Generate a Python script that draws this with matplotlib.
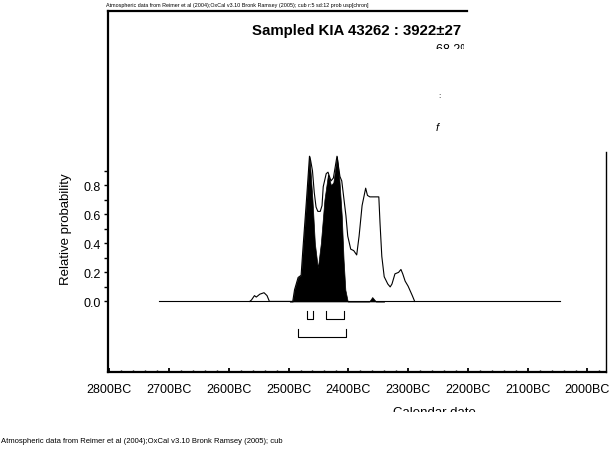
import numpy as np
import matplotlib
matplotlib.use("Agg")
import matplotlib.pyplot as plt
from matplotlib.ticker import FixedLocator, MultipleLocator, FuncFormatter
from matplotlib.transforms import Bbox

plt.rcParams['font.family'] = ['Liberation Sans', 'DejaVu Sans']

# Likelihood (outline), calendar years BC and relative probability
prior_bc = [2565, 2562, 2557, 2554, 2548, 2541, 2536, 2532, 2498, 2493, 2490, 2484,
            2479, 2476, 2470, 2465, 2463, 2460, 2457, 2454, 2451, 2447, 2444, 2442,
            2437, 2434, 2429, 2425, 2419, 2414, 2411, 2404, 2401, 2396, 2391, 2386,
            2382, 2377, 2371, 2368, 2364, 2349, 2347, 2344, 2340, 2334, 2330, 2327,
            2322, 2316, 2312, 2309, 2305, 2300, 2293, 2289]
prior_p = [0.0, 0.01, 0.04, 0.03, 0.05, 0.06, 0.04, 0.0, 0.0, 0.0, 0.08, 0.165,
           0.18, 0.36, 0.70, 1.0, 0.97, 0.90, 0.75, 0.65, 0.62, 0.62, 0.66, 0.79,
           0.88, 0.89, 0.83, 0.85, 1.0, 0.86, 0.83, 0.59, 0.45, 0.36, 0.35, 0.32,
           0.45, 0.66, 0.78, 0.73, 0.72, 0.72, 0.54, 0.31, 0.17, 0.12, 0.10, 0.12,
           0.19, 0.20, 0.22, 0.19, 0.14, 0.105, 0.04, 0.0]

# Sampled (posterior) distribution, filled
post_bc = [2498, 2493, 2490, 2484, 2479, 2476, 2470, 2465, 2460, 2456, 2451, 2446,
           2440, 2434, 2429, 2425, 2419, 2415, 2411, 2408, 2405, 2401,
           2370, 2365, 2360, 2354, 2340]
post_p = [0.0, 0.0, 0.08, 0.165, 0.18, 0.36, 0.70, 1.0, 0.70, 0.40, 0.23, 0.40,
          0.70, 0.875, 0.80, 0.82, 1.0, 0.84, 0.59, 0.29, 0.08, 0.0,
          0.0, 0.0, 0.03, 0.0, 0.0]

# baseline span of the plot
base_bc = [2716, 2046]

# highest probability ranges (from, to) BC
r68 = [(2469, 2459), (2438, 2408)]
r95 = [(2484, 2404)]

title = "Sampled KIA 43262 : 3922\u00b127"
note_top = "Atmospheric data from Reimer et al (2004);OxCal v3.10 Bronk Ramsey (2005); cub r:5 sd:12 prob usp[chron]"
note_bottom = "Atmospheric data from Reimer et al (2004);OxCal v3.10 Bronk Ramsey (2005); cub"

W, H = 613, 452
fig = plt.figure(figsize=(W / 100, H / 100), dpi=100)
ax = fig.add_axes([108 / W, 1 - 373 / H, (606 - 108) / W, (373 - 12) / H])

x_prior = -np.array(prior_bc)
x_post = -np.array(post_bc)

ax.plot([-base_bc[0], -base_bc[1]], [0, 0], color='black', lw=0.8)
ax.plot(x_prior, prior_p, color='black', lw=0.8)
ax.fill_between(x_post, 0, post_p, color='black', lw=0.5)

# range brackets
for a, b in r68:
    ax.plot([-a, -a, -b, -b], [-0.065, -0.122, -0.122, -0.065], color='black', lw=0.8)
for a, b in r95:
    ax.plot([-a, -a, -b, -b], [-0.19, -0.243, -0.243, -0.19], color='black', lw=0.8)

ax.set_xlim(-2802, -1969)
ax.set_ylim(-0.486, 2.0)

ax.xaxis.set_major_locator(FixedLocator(np.arange(-2800, -1999, 100)))
ax.xaxis.set_minor_locator(MultipleLocator(20))
ax.xaxis.set_major_formatter(FuncFormatter(lambda v, p: f"{int(round(-v))}BC"))
ax.yaxis.set_major_locator(FixedLocator([0, 0.2, 0.4, 0.6, 0.8]))
ax.yaxis.set_minor_locator(FixedLocator([0.1, 0.3, 0.5, 0.7, 0.9]))
ax.yaxis.set_major_formatter(FuncFormatter(lambda v, p: f"{v:.1f}"))

ax.tick_params(axis='x', which='major', direction='in', length=3, width=1.3,
               labelsize=9, pad=8)
ax.tick_params(axis='x', which='minor', direction='in', length=1.5, width=1)
ax.tick_params(axis='y', which='both', direction='out', length=3, width=1,
               labelsize=9, pad=2)

for s in ['left', 'bottom', 'top']:
    ax.spines[s].set_linewidth(1.6)
ax.spines['right'].set_linewidth(1.0)
ax.spines['top'].set_bounds(-2802, -2201)
ax.spines['right'].set_bounds(-0.486, 1.027)

fig.text(461 / W, 1 - 35 / H, title, ha='right', va='baseline',
         fontsize=10.8, fontweight='bold')
fig.text(66 / W, 1 - 229.5 / H, "Relative probability", rotation=90,
         ha='center', va='center', fontsize=9.5)
fig.text(106 / W, 1 - 5 / H, note_top, ha='left', va='center', fontsize=3.9)
fig.text(1 / W, 1 - 442 / H, note_bottom, ha='left', va='center', fontsize=5.5)

# partly hidden texts
t = fig.text(436 / W, 1 - 44.5 / H, "68.2% probability", ha='left', va='top', fontsize=9)
t.set_clip_box(Bbox([[435, H - 49.5], [464, H - 40]]))
t.set_clip_on(True)
xl = fig.text(434 / W, 1 - 407 / H, "Calendar date", ha='center', va='top', fontsize=9.5)
xl.set_clip_box(Bbox([[380, H - 412.5], [490, H - 400]]))
xl.set_clip_on(True)
fig.text(439 / W, 1 - 97 / H, ":", ha='center', va='center', fontsize=6)
fig.text(437 / W, 1 - 128 / H, "f", ha='center', va='center', fontsize=8, style='italic')

fig.savefig("out.png", dpi=100)
